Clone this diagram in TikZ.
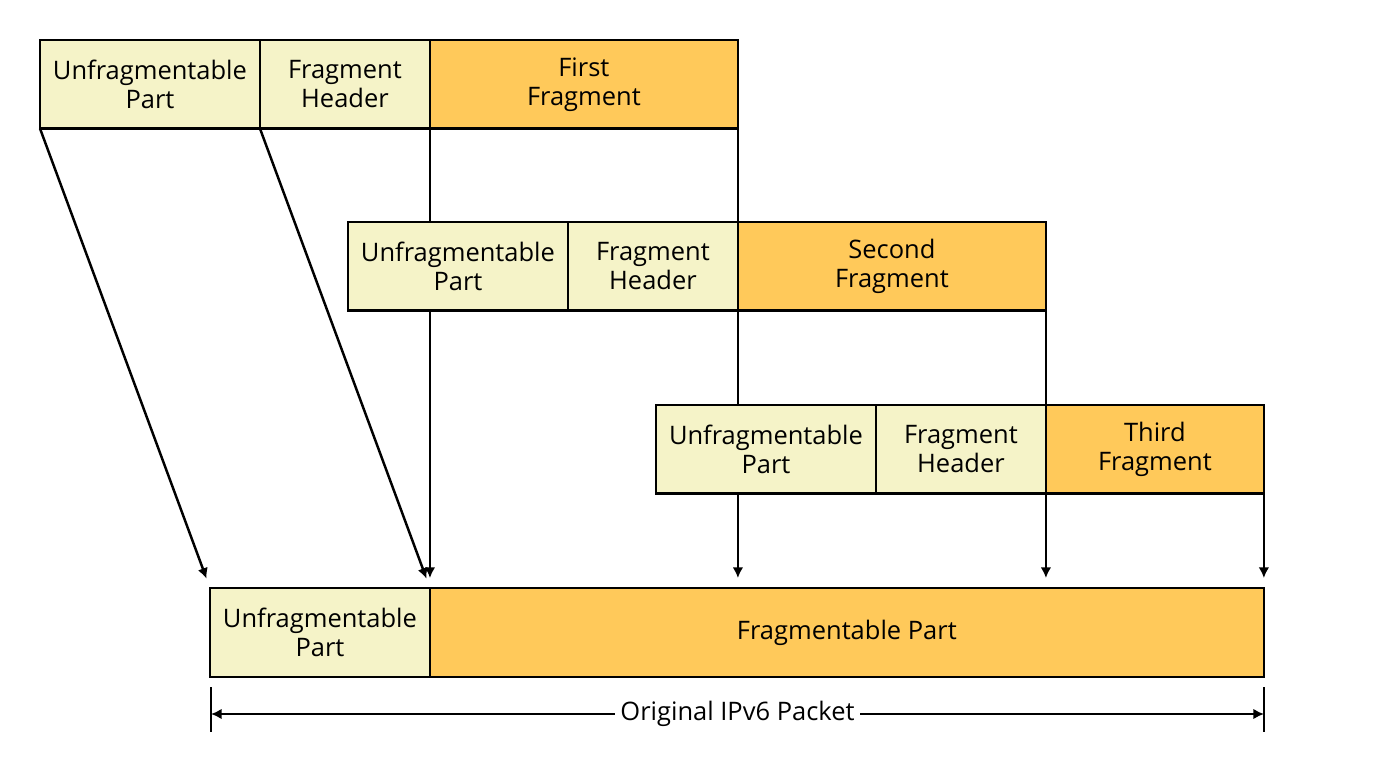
\documentclass[tikz,border=0pt]{standalone}
\usepackage{fontspec}
\setmainfont{Open Sans}
\usepackage{tikz}
\usetikzlibrary{shapes,arrows,arrows.meta,positioning}

\definecolor{unfragfill}{RGB}{245,243,200}
\definecolor{fragfill}{RGB}{255,201,90}

\begin{document}
\begin{tikzpicture}[
    x=0.02cm, y=-0.02cm,
    font=\fontsize{14.5}{16.5}\selectfont,
    line width=1.4pt,
    >={Latex[length=6pt,width=6pt]},
    box/.style={draw, minimum height=1.77cm, inner sep=0pt, outer sep=0pt, align=center, anchor=north west},
    unfrag/.style={box, fill=unfragfill, minimum width=4.4cm},
    fraghdr/.style={box, fill=unfragfill, minimum width=3.4cm},
    frag/.style={box, fill=fragfill},
    link/.style={->, shorten >=0.2cm}
]
    \useasboundingbox (0,0) rectangle (1384,764);

    % first fragment packet
    \node[unfrag] (u1) at (40,40) {Unfragmentable\\Part};
    \node[fraghdr, right=0pt of u1] (h1) {Fragment\\Header};
    \node[frag, minimum width=6.16cm, right=0pt of h1] (f1) {First\\Fragment};

    % second fragment packet
    \node[unfrag] (u2) at (348,222) {Unfragmentable\\Part};
    \node[fraghdr, right=0pt of u2] (h2) {Fragment\\Header};
    \node[frag, minimum width=6.16cm, right=0pt of h2] (f2) {Second\\Fragment};

    % third fragment packet
    \node[unfrag] (u3) at (656,405) {Unfragmentable\\Part};
    \node[fraghdr, right=0pt of u3] (h3) {Fragment\\Header};
    \node[frag, minimum width=4.36cm, right=0pt of h3] (f3) {Third\\Fragment};

    % original packet
    \node[unfrag, minimum height=1.78cm] (ub) at (210,588) {Unfragmentable\\Part};
    \node[frag, minimum height=1.78cm, minimum width=16.68cm, right=0pt of ub] (fb) {Fragmentable Part};

    \draw[link] (u1.south west) -- (ub.north west);
    \draw[link] (h1.south west) -- (ub.north east);
    \draw (f1.south west) -- (f1.south west |- u2.north);
    \draw[link] (ub.north east |- u2.south) -- (ub.north east);
    \draw (f1.south east) -- (f1.south east |- h2.north);
    \draw (h2.south east) -- (h2.south east |- u3.north);
    \draw[link] (h2.south east |- u3.south) -- (h2.south east |- fb.north);
    \draw (f2.south east) -- (f2.south east |- h3.north);
    \draw[link] (h3.south east) -- (h3.south east |- fb.north);
    \draw[link] (f3.south east) -- (f3.south east |- fb.north);

    % packet size
    \coordinate (tl) at (211,687);
    \coordinate (tr) at (1264,687);
    \draw (tl) -- ++(0,45);
    \draw (tr) -- ++(0,45);
    \coordinate (dl) at (211,714);
    \coordinate (dr) at (1264,714);
    \draw[<->] (dl) -- (dr) node[midway, fill=white, inner sep=3pt] {Original IPv6 Packet};
\end{tikzpicture}
\end{document}
